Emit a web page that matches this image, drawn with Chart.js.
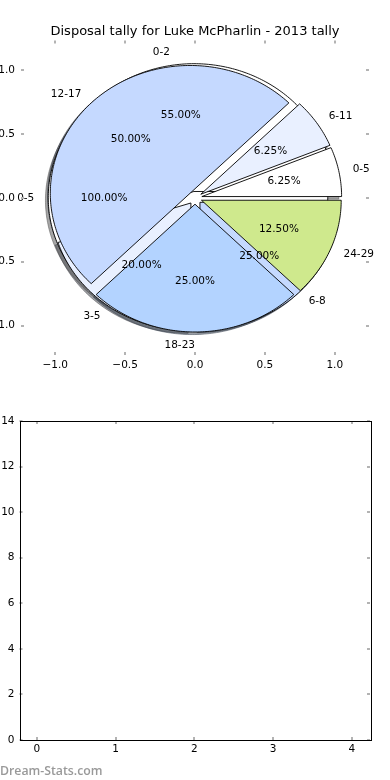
<!DOCTYPE html>
<html>
<head>
    <title>Disposal tally for Luke McPharlin - 2013 tally</title>
    <script src="https://cdn.jsdelivr.net/npm/chart.js"></script>
    <style>
        body {
            margin: 0;
            background: #fff;
            font-family: "DejaVu Sans", sans-serif;
        }
        #pieBox {
            position: absolute;
            left: 0;
            top: 0;
            width: 390px;
            height: 380px;
        }
        #barBox {
            position: absolute;
            left: 0;
            top: 380px;
            width: 390px;
            height: 400px;
        }
        .mark {
            position: absolute;
            left: 0;
            top: 762px;
            font-family: "Open Sans", sans-serif;
            font-weight: 600;
            font-size: 12.3px;
            color: #999;
        }
    </style>
</head>
<body>
    <div id="pieBox"><canvas id="pieChart" width="390" height="380"></canvas></div>
    <div id="barBox"><canvas id="barChart" width="390" height="400"></canvas></div>
    <div class="mark">Dream-Stats.com</div>
    <script>
        // three pies drawn on top of each other (same axes)
        const totalLabels = ['0-5'];
        const totalValues = [100];
        const firstLabels = ['0-2', '3-5', '6-8'];
        const firstValues = [55, 20, 25];
        const tallyLabels = ['0-5', '6-11', '12-17', '18-23', '24-29'];
        const tallyValues = [6.25, 6.25, 50, 25, 12.5];

        const sliceColors = ['#ffffff', '#e9f0ff', '#c5d9ff', '#b3d3ff', '#cfe98d'];

        const pieTicks = [-1, -0.5, 0, 0.5, 1];
        const barXTicks = [0, 1, 2, 3, 4];
        const barYTicks = [0, 2, 4, 6, 8, 10, 12, 14];

        const explode = 0.05;
        const labelFont = '10.5px "DejaVu Sans"';

        function fmtPie(v) {
            return v.toFixed(1).replace('-', '\u2212');
        }

        function shade(hex) {
            const n = parseInt(hex.slice(1), 16);
            const r = Math.round(((n >> 16) & 255) * 0.3);
            const g = Math.round(((n >> 8) & 255) * 0.3);
            const b = Math.round((n & 255) * 0.3);
            return 'rgba(' + r + ',' + g + ',' + b + ',0.5)';
        }

        // build the wedges the same way matplotlib does (counter-clockwise from 0 deg)
        function buildWedges(labels, values) {
            const sum = values.reduce((a, b) => a + b, 0);
            let theta = 0;
            return values.map((v, i) => {
                const t1 = theta;
                const t2 = theta + 360 * v / sum;
                theta = t2;
                const mid = (t1 + t2) / 2 * Math.PI / 180;
                return {
                    t1: t1, t2: t2, mid: mid,
                    cx: explode * Math.cos(mid),
                    cy: explode * Math.sin(mid),
                    color: sliceColors[i % sliceColors.length],
                    label: labels[i],
                    pct: (100 * v / sum).toFixed(2) + '%'
                };
            });
        }

        const pies = [
            buildWedges(totalLabels, totalValues),
            buildWedges(firstLabels, firstValues),
            buildWedges(tallyLabels, tallyValues)
        ];

        function wedgePath(ctx, xs, ys, w, ox, oy) {
            const full = w.t2 - w.t1 >= 359.999;
            ctx.beginPath();
            if (!full) ctx.moveTo(xs.getPixelForValue(w.cx + ox), ys.getPixelForValue(w.cy + oy));
            const steps = Math.max(2, Math.ceil((w.t2 - w.t1) / 1));
            for (let k = 0; k <= steps; k++) {
                const a = (w.t1 + (w.t2 - w.t1) * k / steps) * Math.PI / 180;
                const px = xs.getPixelForValue(w.cx + ox + Math.cos(a));
                const py = ys.getPixelForValue(w.cy + oy + Math.sin(a));
                if (full && k === 0) ctx.moveTo(px, py); else ctx.lineTo(px, py);
            }
            ctx.closePath();
        }

        const piePlugin = {
            id: 'piePlugin',
            afterDatasetsDraw(chart) {
                const ctx = chart.ctx;
                const xs = chart.scales.x, ys = chart.scales.y;
                ctx.save();
                // all shadows go under all wedges
                pies.forEach(p => p.forEach(w => {
                    wedgePath(ctx, xs, ys, w, -0.02, -0.02);
                    ctx.fillStyle = shade(w.color);
                    ctx.strokeStyle = shade(w.color);
                    ctx.lineWidth = 1;
                    ctx.fill();
                    ctx.stroke();
                }));
                pies.forEach(p => p.forEach(w => {
                    wedgePath(ctx, xs, ys, w, 0, 0);
                    ctx.fillStyle = w.color;
                    ctx.strokeStyle = '#000';
                    ctx.lineWidth = 0.9;
                    ctx.fill();
                    ctx.stroke();
                }));
                ctx.font = labelFont;
                ctx.fillStyle = '#000';
                ctx.textBaseline = 'middle';
                pies.forEach(p => p.forEach(w => {
                    const lx = w.cx + 1.1 * Math.cos(w.mid);
                    const ly = w.cy + 1.1 * Math.sin(w.mid);
                    ctx.textAlign = lx > 0 ? 'left' : 'right';
                    ctx.fillText(w.label, xs.getPixelForValue(lx), ys.getPixelForValue(ly));
                    const tx = w.cx + 0.6 * Math.cos(w.mid);
                    const ty = w.cy + 0.6 * Math.sin(w.mid);
                    ctx.textAlign = 'center';
                    ctx.fillText(w.pct, xs.getPixelForValue(tx), ys.getPixelForValue(ty));
                }));
                ctx.restore();
            }
        };

        // matplotlib style ticks: short grey marks pointing inwards on every side
        const innerTicks = {
            id: 'innerTicks',
            afterDraw(chart) {
                const ctx = chart.ctx;
                const a = chart.chartArea;
                const len = 3;
                ctx.save();
                ctx.strokeStyle = '#b3b3b3';
                ctx.lineWidth = 2;
                ctx.beginPath();
                chart.scales.x.ticks.forEach(t => {
                    const px = Math.round(chart.scales.x.getPixelForValue(t.value));
                    ctx.moveTo(px, a.top); ctx.lineTo(px, a.top + len);
                    ctx.moveTo(px, a.bottom); ctx.lineTo(px, a.bottom - len);
                });
                chart.scales.y.ticks.forEach(t => {
                    const py = Math.round(chart.scales.y.getPixelForValue(t.value));
                    ctx.moveTo(a.left, py); ctx.lineTo(a.left + len, py);
                    ctx.moveTo(a.right, py); ctx.lineTo(a.right - len, py);
                });
                ctx.stroke();
                if (chart.options.plugins.frame) {
                    ctx.strokeStyle = '#000';
                    ctx.lineWidth = 1;
                    ctx.strokeRect(Math.round(a.left) + 0.5, Math.round(a.top) + 0.5,
                        Math.round(a.right - a.left), Math.round(a.bottom - a.top));
                }
                ctx.restore();
            }
        };

        function axis(min, max, tickList, fmt, size, pad, isX) {
            return {
                type: 'linear',
                min: min,
                max: max,
                grid: { display: false, drawTicks: false },
                border: { display: false },
                afterBuildTicks: s => { s.ticks = tickList.map(v => ({ value: v })); },
                afterFit: s => { if (isX) s.height = size; else s.width = size; },
                ticks: {
                    callback: fmt,
                    color: '#000',
                    padding: pad,
                    maxRotation: 0,
                    autoSkip: false,
                    font: { family: 'DejaVu Sans', size: 10.5 }
                }
            };
        }

        // empty axis on the right that only reserves space so the title stays centred
        function spacer(size) {
            return {
                type: 'linear',
                position: 'right',
                display: true,
                grid: { display: false, drawTicks: false },
                border: { display: false },
                ticks: { display: false },
                afterFit: s => { s.width = size; }
            };
        }

        const pieChart = new Chart(document.getElementById('pieChart').getContext('2d'), {
            type: 'scatter',
            data: { datasets: [{ data: [] }] },
            options: {
                responsive: false,
                animation: false,
                layout: { padding: 0 },
                plugins: {
                    legend: { display: false },
                    tooltip: { enabled: false },
                    frame: false,
                    title: {
                        display: true,
                        text: 'Disposal tally for Luke McPharlin - 2013 tally',
                        color: '#000',
                        font: { family: 'DejaVu Sans', size: 13, weight: 'normal' },
                        padding: { top: 24, bottom: 1 }
                    }
                },
                scales: {
                    x: axis(-1.245, 1.245, pieTicks, v => fmtPie(v), 25, 4, true),
                    y: axis(-1.23, 1.23, pieTicks, v => fmtPie(v), 21, 6, false),
                    yr: spacer(21)
                }
            },
            plugins: [piePlugin, innerTicks]
        });

        const barChart = new Chart(document.getElementById('barChart').getContext('2d'), {
            type: 'scatter',
            data: { datasets: [{ data: [] }] },
            options: {
                responsive: false,
                animation: false,
                layout: { padding: { left: 0, right: 0, top: 41, bottom: 0 } },
                plugins: {
                    legend: { display: false },
                    tooltip: { enabled: false },
                    frame: true
                },
                scales: {
                    x: axis(-0.22, 4.23, barXTicks, v => String(v), 40, 3, true),
                    y: axis(0, 14, barYTicks, v => String(v), 19.5, 5, false),
                    yr: spacer(20)
                }
            },
            plugins: [innerTicks]
        });
    </script>
</body>
</html>
